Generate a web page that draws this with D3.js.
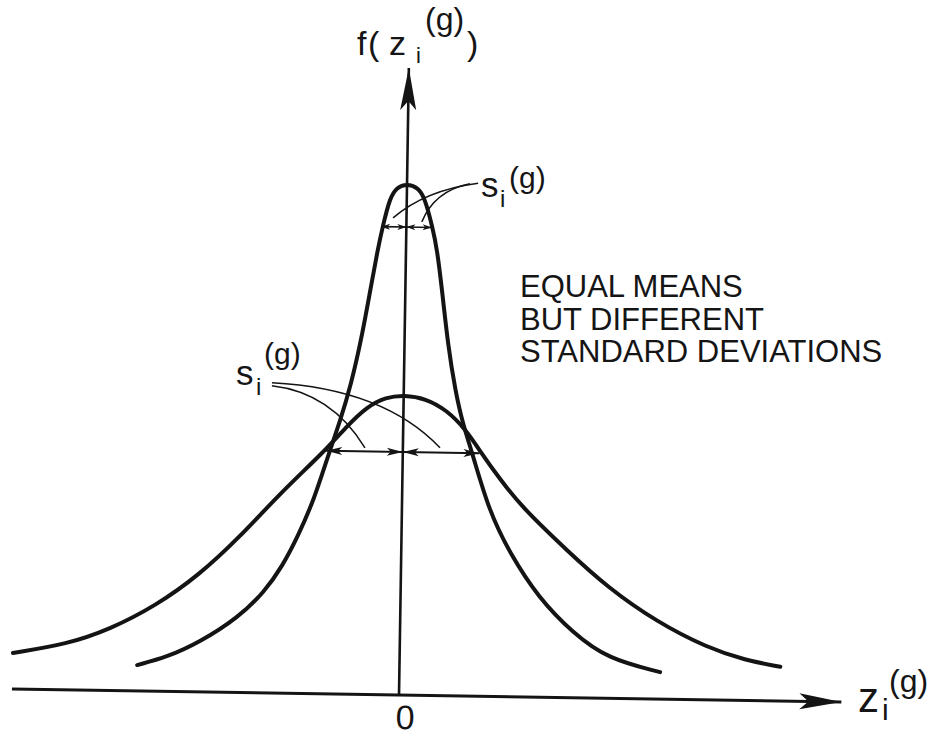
<!DOCTYPE html>
<html>
<head>
<meta charset="utf-8">
<script src="https://cdn.jsdelivr.net/npm/d3@7"></script>
<style>
  body { margin: 0; background: #fff; }
  svg { display: block; }
  text { font-family: "Liberation Sans", Arial, sans-serif; fill: #151515; }
</style>
</head>
<body>
<svg id="chart" width="937" height="738"></svg>
<script>
// Readings: z along the horizontal axis, f up the vertical one.
// The two axes cross at (0, 0).
const narrowZ = [-6.64, -5.89, -5.06, -4.10, -3.45, -3.00, -2.62, -2.22, -1.90, -1.60, -1.34, -1.07, -0.86, -0.72, -0.60, -0.43, -0.26, 0.00,
                 0.28, 0.45, 0.66, 0.79, 0.94, 1.10, 1.30, 1.50, 1.76, 2.20, 2.74, 3.50, 4.38, 5.26, 6.60];
const narrowF = [0.43, 0.57, 0.83, 1.25, 1.68, 2.12, 2.62, 3.25, 3.95, 4.55, 5.15, 6.00, 6.85, 7.40, 7.80, 8.28, 8.46, 8.52,
                 8.46, 8.30, 7.81, 7.43, 6.70, 5.85, 5.10, 4.55, 4.05, 3.10, 2.40, 1.65, 1.08, 0.66, 0.45];

const wideZ = [-9.79, -8.42, -7.34, -6.20, -5.10, -4.08, -3.09, -2.00, -1.45, -0.92, -0.45, 0.01,
               0.55, 1.10, 1.60, 1.96, 2.47, 3.07, 4.20, 5.23, 6.51, 7.78, 8.75, 9.64];
const wideF = [0.60, 0.76, 1.02, 1.42, 1.95, 2.60, 3.33, 4.03, 4.45, 4.80, 4.96, 5.00,
               4.95, 4.76, 4.43, 4.08, 3.62, 3.14, 2.45, 1.85, 1.28, 0.87, 0.67, 0.57];

// the s arrows: height where they are drawn and their half width
const sLevel = [7.80, 4.05];
const sHalf = [0.64, 1.94];

// leader lines from the s labels: start, control point, end
const leaders = [
  [1.80, 8.55, 0.46, 8.42, -0.34, 7.95],
  [1.59, 8.54, 0.69, 8.41, 0.39, 7.89],
  [-3.34, 5.12, -1.83, 5.02, -0.96, 4.11],
  [-3.34, 5.17, -0.50, 5.10, 0.94, 4.13]
];

const zAxisExtent = [-9.8, 11.2];
const fAxisTop = 10.45;

const svg = d3.select("#chart");
const ink = "#141414";

const x = d3.scaleLinear().domain([-10, 10]).range([4, 794]);
const y = d3.scaleLinear().domain([0, 10]).range([695, 95]);

// arrow heads
const defs = svg.append("defs");
function head(id, len, half, notch) {
  defs.append("marker")
    .attr("id", id)
    .attr("markerUnits", "userSpaceOnUse")
    .attr("viewBox", `${-len - 1} ${-half - 1} ${len + 2} ${2 * half + 2}`)
    .attr("markerWidth", len + 2)
    .attr("markerHeight", 2 * half + 2)
    .attr("refX", 0)
    .attr("refY", 0)
    .attr("orient", "auto-start-reverse")
    .append("path")
    .attr("d", `M0,0L${-len},${-half}L${-len + notch},0L${-len},${half}Z`)
    .attr("fill", ink);
}
head("axisHead", 42, 8, 9);
head("sBig", 16, 4, 4);
head("sSmall", 9, 3, 2.5);

// the scan is turned a little, so the whole figure is too
const g = svg.append("g")
  .attr("transform", `rotate(0.9, ${x(0)}, ${y(0)})`);

// axes
g.append("line")
  .attr("x1", x(zAxisExtent[0])).attr("x2", x(zAxisExtent[1]))
  .attr("y1", y(0)).attr("y2", y(0))
  .attr("stroke", ink).attr("stroke-width", 3)
  .attr("marker-end", "url(#axisHead)");

g.append("line")
  .attr("x1", x(0)).attr("x2", x(0))
  .attr("y1", y(0)).attr("y2", y(fAxisTop))
  .attr("stroke", ink).attr("stroke-width", 2.6)
  .attr("marker-end", "url(#axisHead)");

const originAxis = g.append("g")
  .attr("transform", `translate(0,${y(0)})`)
  .call(d3.axisBottom(x).tickValues([0]).tickSize(0).tickPadding(10).tickFormat(d3.format("d")));
originAxis.select(".domain").remove();
originAxis.selectAll("text")
  .attr("font-size", 34)
  .attr("font-family", "Liberation Sans, Arial, sans-serif")
  .attr("fill", ink)
  .attr("dx", 6);

// the two curves
const line = d3.line()
  .x(d => x(d[0]))
  .y(d => y(d[1]))
  .curve(d3.curveBasis);

const curves = [d3.zip(narrowZ, narrowF), d3.zip(wideZ, wideF)];
g.selectAll(".curve")
  .data(curves)
  .enter()
  .append("path")
  .attr("class", "curve")
  .attr("d", line)
  .attr("fill", "none")
  .attr("stroke", ink)
  .attr("stroke-width", 4)
  .attr("stroke-linecap", "round")
  .attr("stroke-linejoin", "round");

// double arrows either side of the axis
sLevel.forEach((lv, i) => {
  const marker = i === 0 ? "url(#sSmall)" : "url(#sBig)";
  [[-sHalf[i], 0], [0, sHalf[i]]].forEach(seg => {
    g.append("line")
      .attr("x1", x(seg[0])).attr("x2", x(seg[1]))
      .attr("y1", y(lv)).attr("y2", y(lv))
      .attr("stroke", ink)
      .attr("stroke-width", i === 0 ? 1.6 : 2)
      .attr("marker-start", marker)
      .attr("marker-end", marker);
  });
});

// leader lines
g.selectAll(".leader")
  .data(leaders)
  .enter()
  .append("path")
  .attr("class", "leader")
  .attr("d", d => {
    const p = d3.path();
    p.moveTo(x(d[0]), y(d[1]));
    p.quadraticCurveTo(x(d[2]), y(d[3]), x(d[4]), y(d[5]));
    return p.toString();
  })
  .attr("fill", "none")
  .attr("stroke", ink)
  .attr("stroke-width", 1.5);

// labels
function piece(t, px, py, size) {
  svg.append("text").attr("x", px).attr("y", py).attr("font-size", size).text(t);
}

// f(z_i^(g)) at the top of the vertical axis
piece("f", 357, 55, 34);
piece("(", 368, 55, 34);
piece("z", 389, 55, 34);
piece("i", 416, 63, 22);
piece("(g)", 425, 30, 32);
piece(")", 467, 55, 34);

// z_i^(g) at the end of the horizontal axis
piece("z", 858, 712, 42);
piece("i", 882, 720, 30);
piece("(g)", 889, 692, 32);

// s_i^(g) near the narrow curve
piece("s", 481, 197, 35);
piece("i", 500, 207, 24);
piece("(g)", 509, 188, 30);

// s_i^(g) near the wide curve
piece("s", 236, 385, 35);
piece("i", 256, 395, 24);
piece("(g)", 264, 364, 30);

const note = ["EQUAL MEANS", "BUT DIFFERENT", "STANDARD DEVIATIONS"];
svg.selectAll(".note")
  .data(note)
  .enter()
  .append("text")
  .attr("class", "note")
  .attr("x", 520)
  .attr("y", (d, i) => 297 + i * 32.5)
  .attr("font-size", 31)
  .text(d => d);
</script>
</body>
</html>
